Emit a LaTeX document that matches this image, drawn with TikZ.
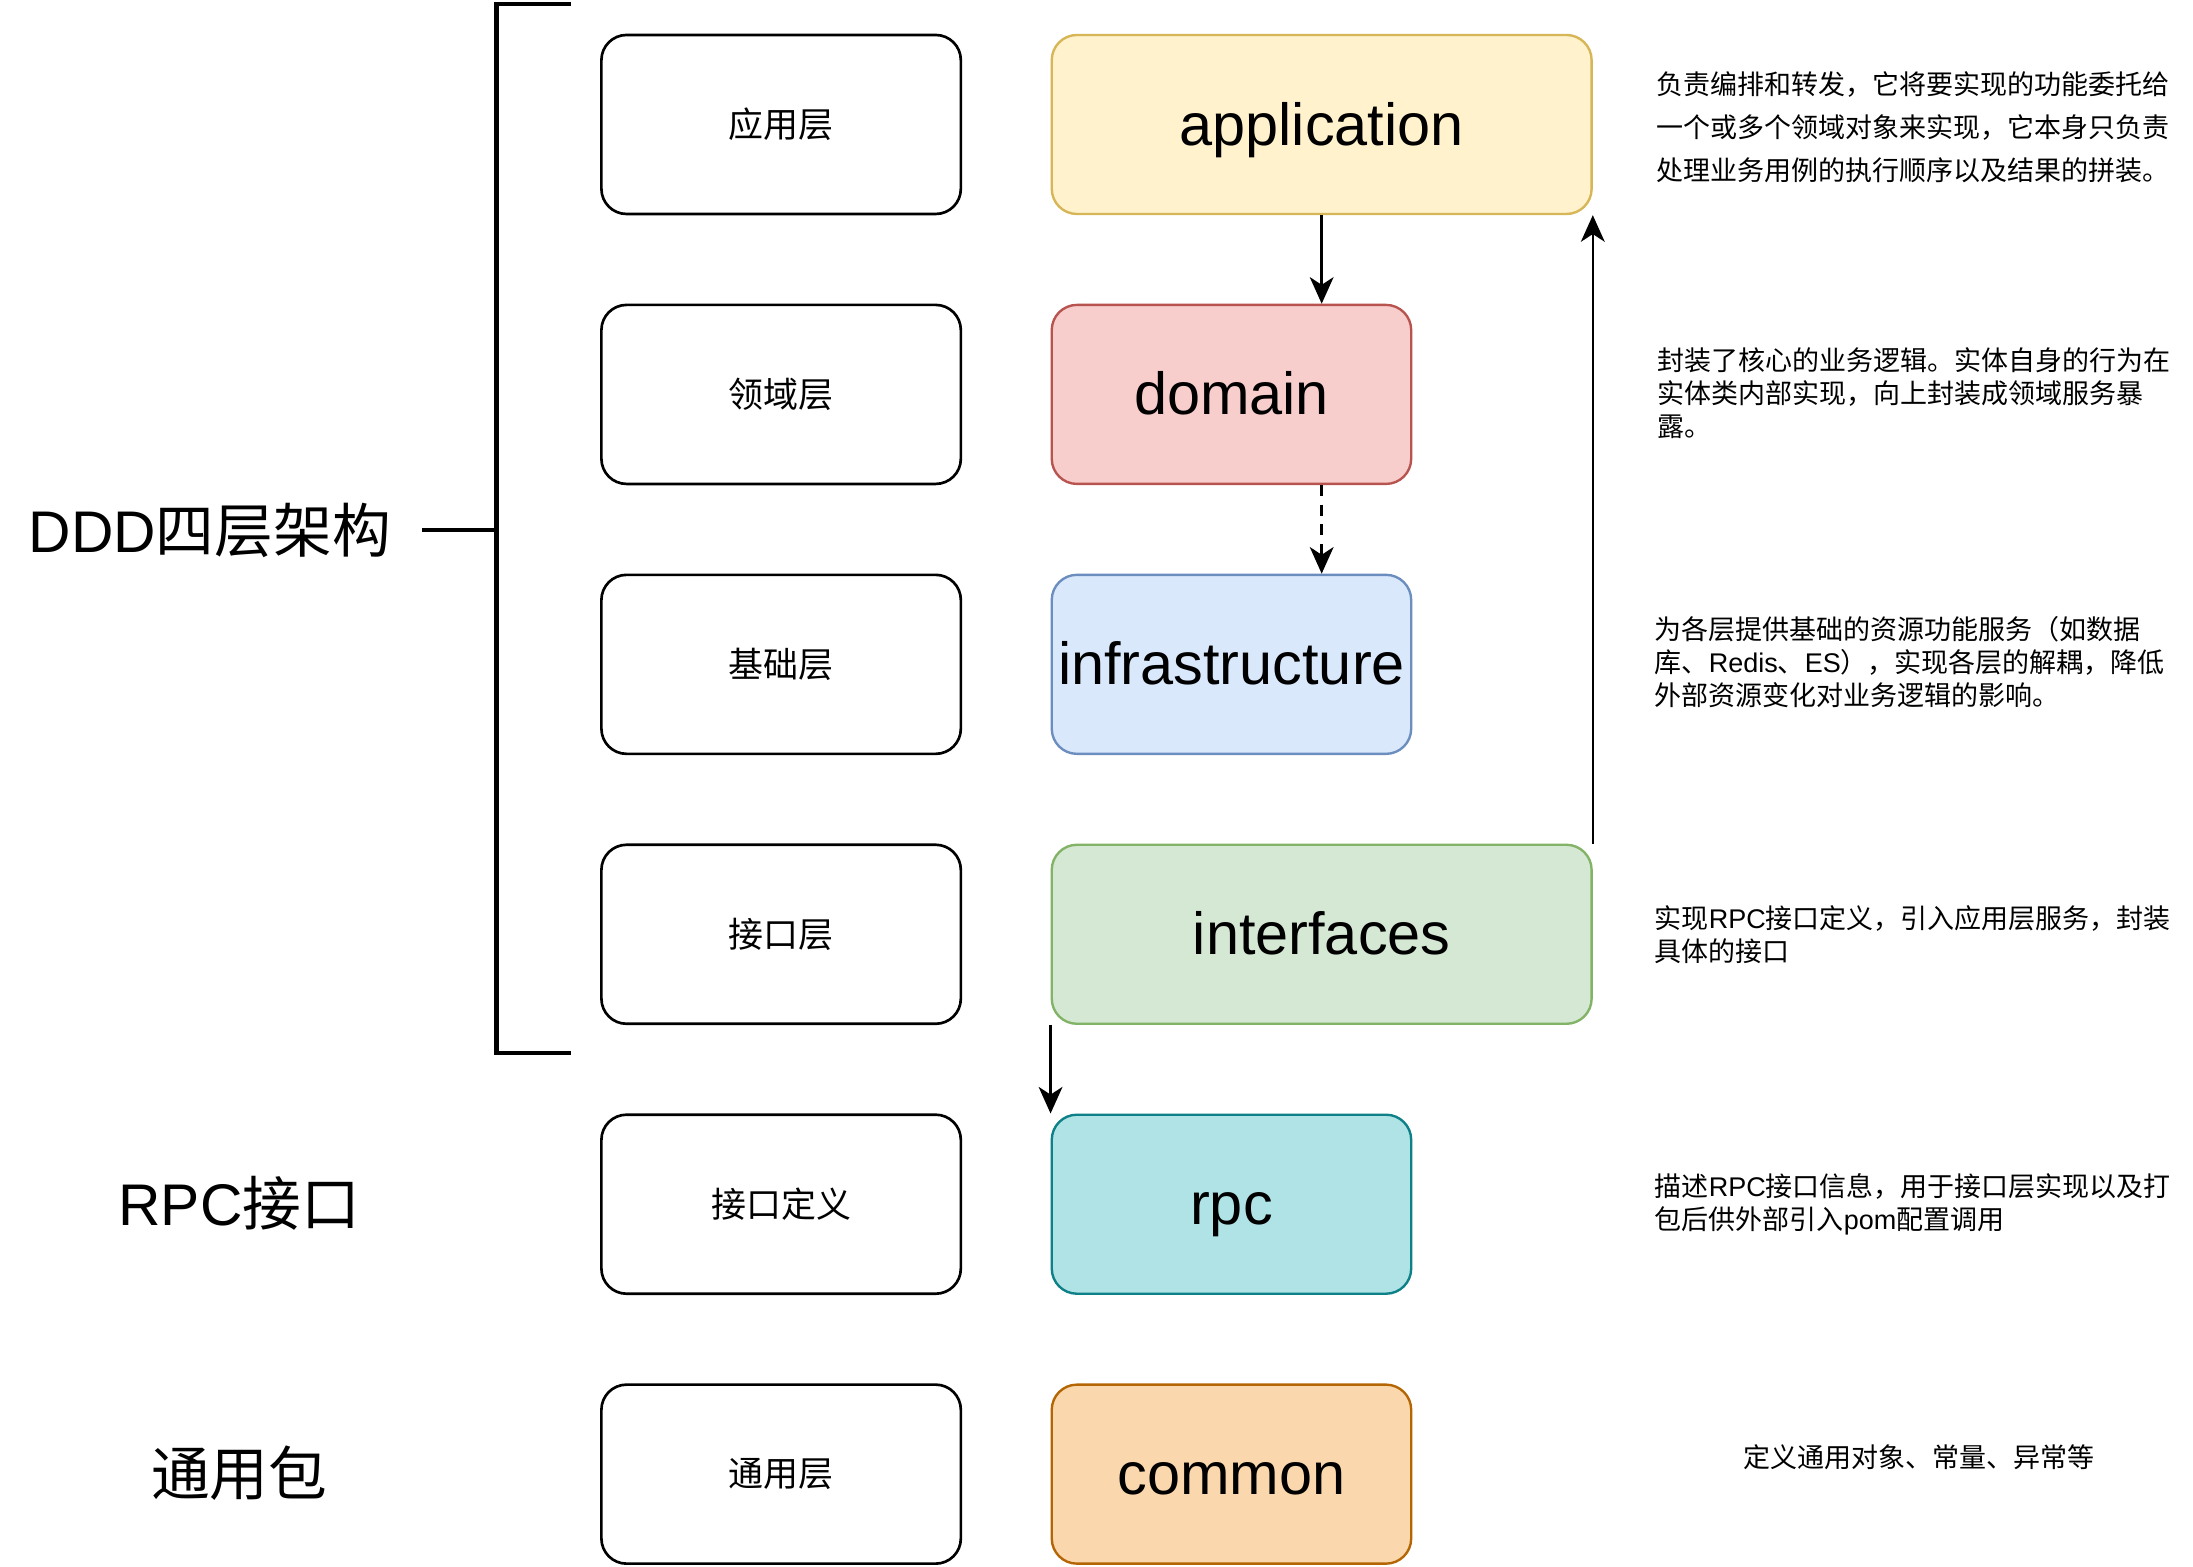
\documentclass[tikz,border=0pt]{standalone}
\usepackage{fontspec}
\setmainfont{Liberation Sans}
\newfontfamily\cjk{Noto Sans CJK SC}
\newcommand\latn[1]{{\rmfamily #1}}
\usetikzlibrary{arrows.meta}
\definecolor{appfill}{HTML}{FFF2CC}\definecolor{appdraw}{HTML}{D6B656}
\definecolor{domfill}{HTML}{F8CECC}\definecolor{domdraw}{HTML}{B85450}
\definecolor{infill}{HTML}{DAE8FC}\definecolor{indraw}{HTML}{6C8EBF}
\definecolor{itfill}{HTML}{D5E8D4}\definecolor{itdraw}{HTML}{82B366}
\definecolor{rpcfill}{HTML}{B0E3E6}\definecolor{rpcdraw}{HTML}{0E8088}
\definecolor{comfill}{HTML}{FAD7AC}\definecolor{comdraw}{HTML}{B46504}
\begin{document}
\begin{tikzpicture}[x=1pt,y=-1pt,
  lbox/.style={draw=black, line width=1.9pt, rounded corners=18pt, minimum width=257pt, minimum height=128pt, inner sep=0pt, font=\cjk\fontsize{25}{30}\selectfont},
  rbox/.style={rounded corners=18pt, minimum width=257pt, minimum height=128pt, inner sep=0pt, line width=1.7pt, font=\fontsize{42.5}{50}\selectfont, text height=40.2pt, text depth=10.8pt},
  titletext/.style={inner sep=0pt, font=\cjk\fontsize{42}{50}\selectfont},
  desc/.style={anchor=west, align=left, inner sep=0pt, font=\cjk\fontsize{19.3}{23.5}\selectfont},
  bracketline/.style={line width=3pt},
  conn/.style={line width=1.8pt, -{Stealth[length=19pt,width=17pt,inset=5.5pt]}}
]
\useasboundingbox (0,0) rectangle (1568,1120);

% bracket
\coordinate (bt) at (408,3);
\coordinate (bb) at (408,753);
\coordinate (bm) at (355,379);
\coordinate (tick) at (302,379);
\draw[bracketline] (bt) -- (bt -| bm) -- (bb -| bm) -- (bb);
\draw[bracketline] (tick) -- (bm);

% titles
\node[titletext] (t1) at (150,379) {\latn{DDD}四层架构};
\node[titletext] (t2) at (171,860) {\latn{RPC}接口};
\node[titletext] (t3) at (171,1053) {通用包};

% left boxes
\node[lbox] (l1) at (558.5,89) {应用层};
\node[lbox] (l2) at (558.5,282) {领域层};
\node[lbox] (l3) at (558.5,475) {基础层};
\node[lbox] (l4) at (558.5,668) {接口层};
\node[lbox] (l5) at (558.5,861) {接口定义};
\node[lbox] (l6) at (558.5,1054) {通用层};

% right boxes
\node[rbox, minimum width=386pt, fill=appfill, draw=appdraw] (app) at (945,89) {application};
\node[rbox, fill=domfill, draw=domdraw] (dom) at (880.5,282) {domain};
\node[rbox, fill=infill, draw=indraw] (inf) at (880.5,475) {infrastructure};
\node[rbox, minimum width=386pt, fill=itfill, draw=itdraw] (itf) at (945,668) {interfaces};
\node[rbox, fill=rpcfill, draw=rpcdraw] (rpc) at (880.5,861) {rpc};
\node[rbox, fill=comfill, draw=comdraw] (com) at (880.5,1054) {common};

% connectors
\draw[conn] (app.south) -- (app.south |- dom.north);
\draw[conn, dash pattern=on 8pt off 6pt] (app.south |- dom.south) -- (app.south |- inf.north);
\draw[conn] (itf.north east) -- (app.south east);
\draw[conn] (itf.south west) -- (rpc.north west);

% descriptions
\node[desc, font=\cjk\fontsize{19.3}{31}\selectfont] (d1) at (1184,91) {负责编排和转发，它将要实现的功能委托给\\一个或多个领域对象来实现，它本身只负责\\处理业务用例的执行顺序以及结果的拼装。};
\node[desc] (d2) at (1185,281) {封装了核心的业务逻辑。实体自身的行为在\\实体类内部实现，向上封装成领域服务暴\\露。};
\node[desc] (d3) at (1183,473.5) {为各层提供基础的资源功能服务（如数据\\库、\latn{Redis}、\latn{ES}），实现各层的解耦，降低\\外部资源变化对业务逻辑的影响。};
\node[desc] (d4) at (1183,668) {实现\latn{RPC}接口定义，引入应用层服务，封装\\具体的接口};
\node[desc] (d5) at (1183,861) {描述\latn{RPC}接口信息，用于接口层实现以及打\\包后供外部引入\latn{pom}配置调用};
\node[desc, anchor=center] (d6) at (1372,1042) {定义通用对象、常量、异常等};
\end{tikzpicture}
\end{document}
